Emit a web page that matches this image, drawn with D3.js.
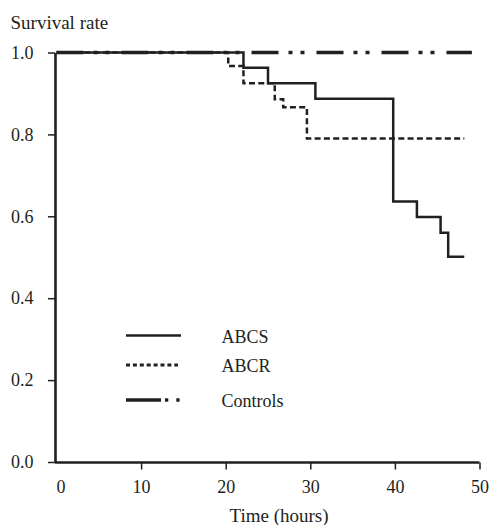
<!DOCTYPE html>
<html>
<head>
<meta charset="utf-8">
<script src="https://cdn.jsdelivr.net/npm/d3@7"></script>
<style>
  body { margin: 0; background: #fff; }
  svg text { font-family: "Liberation Serif", "Times New Roman", serif; fill: #231f20; }
</style>
</head>
<body>
<svg id="chart" width="491" height="525"></svg>
<script>
// Kaplan-Meier steps: time (hours) and survival rate
var abcsTime = [0, 22.1, 25.0, 30.6, 39.8, 42.6, 45.4, 46.3, 48.2];
var abcsRate = [1.0, 0.963, 0.925, 0.887, 0.636, 0.598, 0.560, 0.501, 0.501];

var abcrTime = [0, 20.3, 22.1, 25.8, 26.8, 29.6, 48.2];
var abcrRate = [1.0, 0.967, 0.925, 0.886, 0.866, 0.790, 0.790];

var ctrlTime = [0, 49.1];
var ctrlRate = [1.0, 1.0];

var xTicks = [0, 10, 20, 30, 40, 50];
var yTicks = [0, 0.2, 0.4, 0.6, 0.8, 1.0];
var legendNames = ["ABCS", "ABCR", "Controls"];

var ink = "#231f20";

var svg = d3.select("#chart");

// scales
var x = d3.scaleLinear().domain([0, 50]).range([56.5, 479.5]);
var y = d3.scaleLinear().domain([0, 1]).range([462, 52.5]);

function zipUp(t, r) {
	return t.map(function(d, i){ return [d, r[i]]; });
}

var line = d3.line()
	.x(function(d){ return x(d[0]); })
	.y(function(d){ return y(d[1]); })
	.curve(d3.curveStepAfter);

// y axis
var yAxis = svg.append("g")
	.attr("transform", "translate(55,0)")
	.call(d3.axisLeft(y).tickValues(yTicks).tickFormat(d3.format(".1f"))
		.tickSize(7).tickSizeOuter(0).tickPadding(14.5));

// x axis
var xAxis = svg.append("g")
	.attr("transform", "translate(0,462.5)")
	.call(d3.axisBottom(x).tickValues(xTicks).tickFormat(d3.format("d"))
		.tickSize(7).tickSizeOuter(0).tickPadding(11));

[yAxis, xAxis].forEach(function(a){
	a.select(".domain").attr("stroke", ink).attr("stroke-width", 2.6);
	a.selectAll(".tick line").attr("stroke", ink).attr("stroke-width", 1.5);
	a.selectAll(".tick text").attr("font-size", 18).attr("fill", ink)
		.style("font-family", '"Liberation Serif", serif');
});
// x tick 0 sits on the y axis, no tick mark there
xAxis.selectAll(".tick").filter(function(d){ return d === 0; })
	.select("line").remove();
xAxis.selectAll(".tick text").attr("dx", function(d){ return d === 0 ? 4 : 0; });
// the horizontal domain starts at the y axis
xAxis.select(".domain").attr("d", "M55,0H" + x(50));

// curves
svg.append("path")
	.attr("d", line(zipUp(ctrlTime, ctrlRate)))
	.attr("fill", "none").attr("stroke", ink).attr("stroke-width", 3.4)
	.attr("stroke-dasharray", "27,10,4,8,4,12");

svg.append("path")
	.attr("d", line(zipUp(abcrTime, abcrRate)))
	.attr("fill", "none").attr("stroke", ink).attr("stroke-width", 2.5)
	.attr("stroke-dasharray", "6,3.3");

svg.append("path")
	.attr("d", line(zipUp(abcsTime, abcsRate)))
	.attr("fill", "none").attr("stroke", ink).attr("stroke-width", 2.5);

// titles
svg.append("text")
	.attr("x", 10.5).attr("y", 29)
	.attr("font-size", 19)
	.text("Survival rate");

svg.append("text")
	.attr("x", 279).attr("y", 522)
	.attr("text-anchor", "middle")
	.attr("font-size", 19)
	.text("Time (hours)");

// legend
var legendDash = [null, "4,2.9", "35,4,3.3,8,3.3,40"];
var legendWidth = [2.6, 3, 3.4];
var legendY = [335.5, 365, 400];

var legend = svg.append("g");
legendNames.forEach(function(name, i){
	legend.append("line")
		.attr("x1", 126).attr("x2", i === 1 ? 178 : 181)
		.attr("y1", legendY[i]).attr("y2", legendY[i])
		.attr("stroke", ink).attr("stroke-width", legendWidth[i])
		.attr("stroke-dasharray", legendDash[i]);
	legend.append("text")
		.attr("x", 221.5).attr("y", legendY[i] + 7)
		.attr("font-size", 18)
		.text(name);
});
</script>
</body>
</html>
